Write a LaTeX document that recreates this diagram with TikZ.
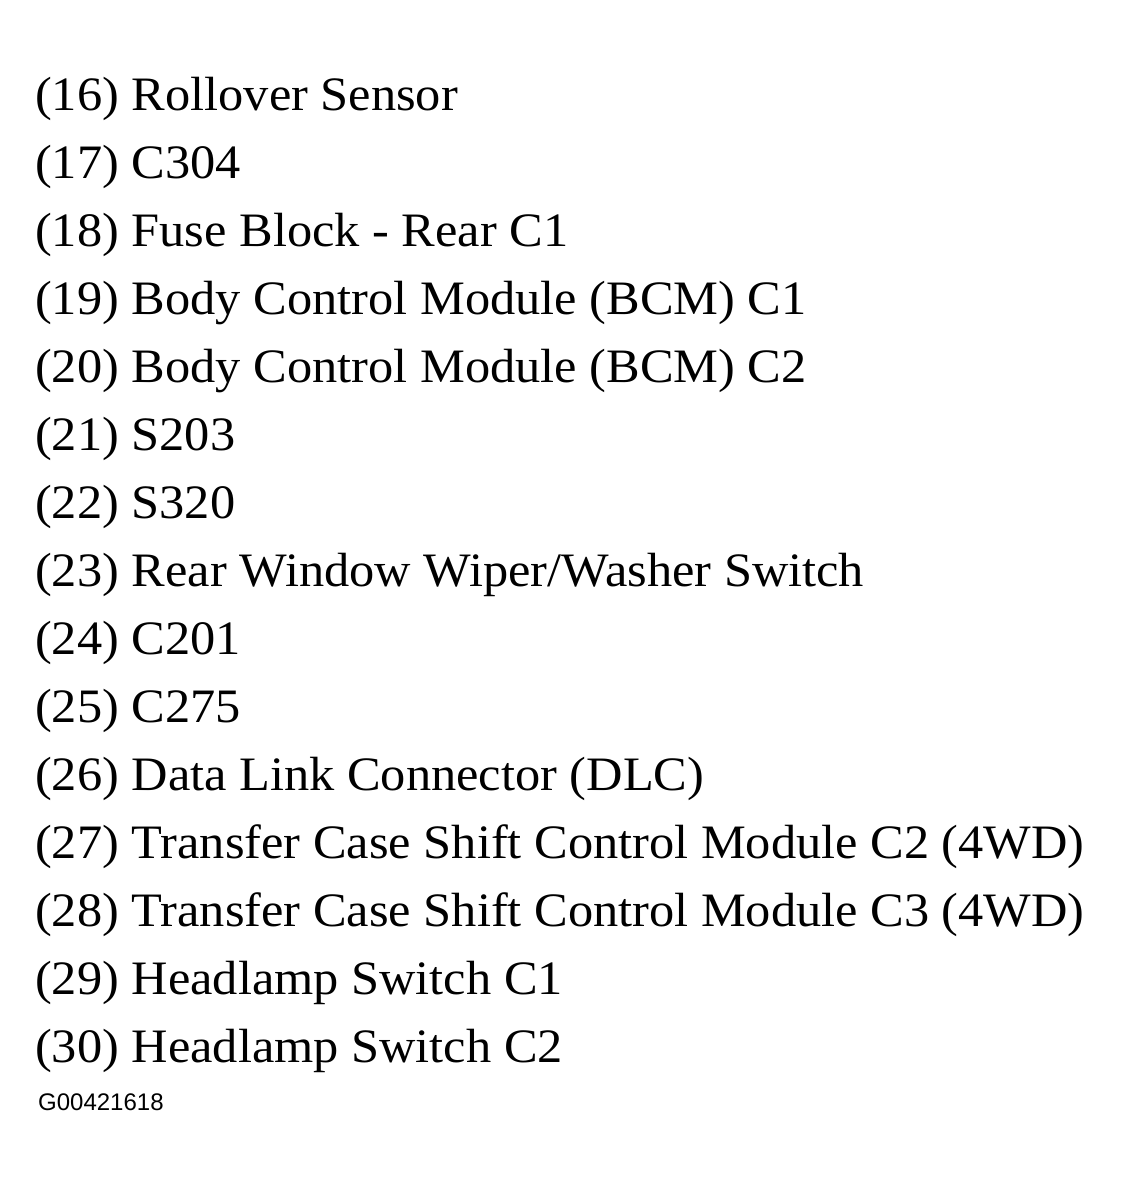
\documentclass[tikz,border=0pt]{standalone}
\usepackage{fontspec}
\setmainfont{Liberation Serif}
\newfontfamily\codefont{Liberation Sans}
\begin{document}
\begin{tikzpicture}[x=1pt,y=-1pt,
    item/.style={anchor=base west, inner sep=0pt, xscale=1.05, font=\fontsize{48}{56}\selectfont},
    code/.style={anchor=base west, inner sep=0pt, font=\codefont\fontsize{24}{28}\selectfont}]

    \useasboundingbox [fill=white] (0,0) rectangle (1122,1184);

    \node[item] (i16) at (35,110) {(16) Rollover Sensor};
    \node[item] (i17) at (35,178) {(17) C304};
    \node[item] (i18) at (35,246) {(18) Fuse Block - Rear C1};
    \node[item] (i19) at (35,314) {(19) Body Control Module (BCM) C1};
    \node[item] (i20) at (35,382) {(20) Body Control Module (BCM) C2};
    \node[item] (i21) at (35,450) {(21) S203};
    \node[item] (i22) at (35,518) {(22) S320};
    \node[item] (i23) at (35,586) {(23) Rear Window Wiper/Washer Switch};
    \node[item] (i24) at (35,654) {(24) C201};
    \node[item] (i25) at (35,722) {(25) C275};
    \node[item] (i26) at (35,790) {(26) Data Link Connector (DLC)};
    \node[item] (i27) at (35,858) {(27) Transfer Case Shift Control Module C2 (4WD)};
    \node[item] (i28) at (35,926) {(28) Transfer Case Shift Control Module C3 (4WD)};
    \node[item] (i29) at (35,994) {(29) Headlamp Switch C1};
    \node[item] (i30) at (35,1062) {(30) Headlamp Switch C2};

    \node[code] (gnum) at (38,1110) {G00421618};

\end{tikzpicture}
\end{document}
